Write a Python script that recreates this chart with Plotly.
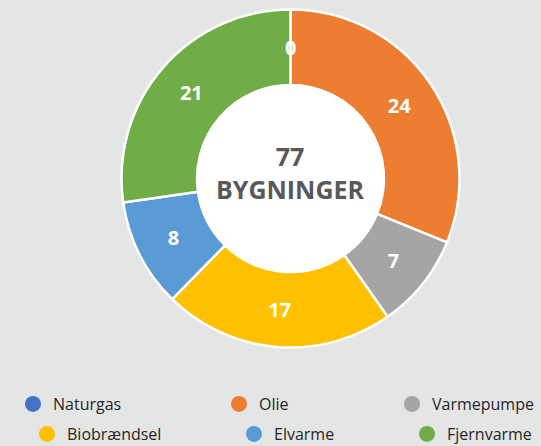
import math
import plotly.graph_objects as go

# Heat sources for the building stock
categories = ["Naturgas", "Olie", "Varmepumpe", "Biobrændsel", "Elvarme", "Fjernvarme"]
values = [0, 24, 7, 17, 8, 21]
colors = ["#4472C4", "#ED7D31", "#A5A5A5", "#FFC000", "#5B9BD5", "#70AD47"]
total_label = "BYGNINGER"

W, H = 541, 446
BG = "#e4e5e5"
FONT = "Open Sans"

# donut geometry (pixels)
cx, cy, R = 290.5, 178.5, 169
hole = 0.553

dom_x = [(cx - R) / W, (cx + R) / W]
dom_y = [1 - (cy + R) / H, 1 - (cy - R) / H]


def px(x, y):
    return x / W, 1 - y / H


fig = go.Figure()

fig.add_trace(go.Pie(
    labels=categories,
    values=values,
    sort=False,
    direction="clockwise",
    rotation=0,
    hole=hole,
    domain=dict(x=dom_x, y=dom_y),
    marker=dict(colors=colors, line=dict(color="white", width=2.5)),
    textinfo="value",
    textposition="inside",
    insidetextorientation="horizontal",
    textfont=dict(family=FONT, size=20, color="white", weight="bold"),
    showlegend=False,
    hoverinfo="label+value",
))

# zero-sized slices get no inside text from plotly; label them at mid-ring
total = sum(values)
r_mid = R * (1 + hole) / 2
cum = 0
for v in values:
    if v == 0:
        theta = math.radians((cum + v / 2) / total * 360)
        lx, ly = px(cx + r_mid * math.sin(theta), cy - r_mid * math.cos(theta))
        fig.add_annotation(
            x=lx, y=ly, xref="paper", yref="paper", text=str(v), showarrow=False,
            font=dict(family=FONT, size=20, color="white", weight="bold"),
            xanchor="center", yanchor="middle",
        )
    cum += v

# legend entries laid out in a 3 x 2 grid
legend_pos = [(33, 404), (239, 404), (412, 404), (47, 434), (254, 434), (427, 434)]
layout_legends = {}
for i, (name, col) in enumerate(zip(categories, colors)):
    key = "legend" if i == 0 else f"legend{i + 1}"
    fig.add_trace(go.Scatter(
        x=[None], y=[None], mode="markers", name=name,
        marker=dict(color=col, size=16, symbol="circle"),
        legend=key, showlegend=True,
    ))
    lx, ly = px(legend_pos[i][0] - 20, legend_pos[i][1])
    layout_legends[key] = dict(
        x=lx, y=ly, xanchor="left", yanchor="middle",
        bgcolor="rgba(0,0,0,0)", borderwidth=0,
        font=dict(family=FONT, size=16, color="#262626"),
        itemwidth=30,
    )

# white disc filling the donut hole
r_in = R * hole + 1
x0, y1 = px(cx - r_in, cy - r_in)
x1, y0 = px(cx + r_in, cy + r_in)
fig.add_shape(
    type="circle", xref="paper", yref="paper", x0=x0, x1=x1, y0=y0, y1=y1,
    fillcolor="white", line=dict(width=0), layer="below",
)

# centre caption: total and unit on two lines
ax, ay = px(cx, 172.5)
fig.add_annotation(
    x=ax, y=ay, xref="paper", yref="paper",
    text=f"{total}<br>{total_label}", showarrow=False,
    font=dict(family=FONT, size=25, color="#595959", weight="bold"),
    xanchor="center", yanchor="middle", align="center",
)

fig.update_layout(
    width=W, height=H,
    margin=dict(l=0, r=0, t=0, b=0, autoexpand=False),
    paper_bgcolor=BG, plot_bgcolor=BG,
    xaxis=dict(visible=False), yaxis=dict(visible=False),
    **layout_legends,
)

fig.write_html("out.html")
